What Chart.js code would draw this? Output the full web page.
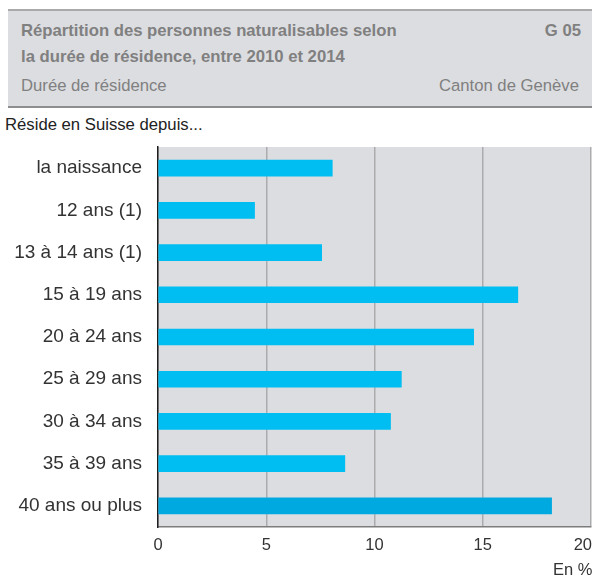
<!DOCTYPE html>
<html>
<head>
<meta charset="utf-8">
<script src="https://cdn.jsdelivr.net/npm/chart.js@4.4.0/dist/chart.umd.min.js"></script>
<style>
  body { margin: 0; background: #fff; font-family: "Liberation Sans", Arial, sans-serif; }
  #wrap { position: relative; width: 592px; height: 576px; overflow: hidden; }
  #head {
    position: absolute; left: 8px; top: 9px; width: 584px; height: 99px;
    background: #dcdde0; box-sizing: border-box;
    border-top: 2px solid #a9a9ab; border-bottom: 2px solid #8e8e90;
  }
  .t { position: absolute; font-size: 16.7px; line-height: 26px; color: #808080; white-space: nowrap; }
  .b { font-weight: bold; }
  #canvasBox { position: absolute; left: 0; top: 0; width: 592px; height: 576px; }
</style>
</head>
<body>
<div id="wrap">
  <div id="head"></div>
  <div class="t b" style="left:21px; top:18px;">Répartition des personnes naturalisables selon</div>
  <div class="t b" style="left:21px; top:44px;">la durée de résidence, entre 2010 et 2014</div>
  <div class="t b" style="right:11px; top:18px;">G 05</div>
  <div class="t" style="left:21px; top:73px;">Durée de résidence</div>
  <div class="t" style="right:13px; top:73px;">Canton de Genève</div>
  <div class="t" style="left:5px; top:112px; color:#222;">Réside en Suisse depuis...</div>
  <div id="canvasBox"><canvas id="chart" width="592" height="576"></canvas></div>
</div>
<script>
  const categories = [
    'la naissance', '12 ans (1)', '13 à 14 ans (1)', '15 à 19 ans', '20 à 24 ans',
    '25 à 29 ans', '30 à 34 ans', '35 à 39 ans', '40 ans ou plus'
  ];
  const shares = [8.05, 4.46, 7.56, 16.62, 14.58, 11.24, 10.74, 8.63, 18.18];
  const xTicks = [0, 5, 10, 15, 20];

  const barColors = categories.map((c, i) => i === categories.length - 1 ? '#00a9e0' : '#00bdf2');

  Chart.defaults.font.family = '"Liberation Sans", Arial, sans-serif';

  // grey plot background, x tick labels (last one kept inside the page) and unit
  const plotBg = {
    id: 'plotBg',
    beforeDraw(chart) {
      const a = chart.chartArea, ctx = chart.ctx;
      ctx.save();
      ctx.fillStyle = '#dcdde0';
      ctx.fillRect(a.left, a.top, a.right - a.left, a.bottom - a.top);
      ctx.restore();
    },
    afterDraw(chart) {
      const ctx = chart.ctx, sx = chart.scales.x;
      ctx.save();
      ctx.font = '16.5px "Liberation Sans", Arial, sans-serif';
      ctx.fillStyle = '#333';
      ctx.textBaseline = 'alphabetic';
      xTicks.forEach((v, i) => {
        const px = sx.getPixelForValue(v);
        const last = i === xTicks.length - 1;
        ctx.textAlign = last ? 'right' : 'center';
        ctx.fillText(String(v), last ? Math.min(px + 1, chart.width) : px, chart.chartArea.bottom + 23);
      });
      ctx.textAlign = 'left';
      ctx.fillText('En %', 553, 575);
      ctx.restore();
    }
  };

  new Chart(document.getElementById('chart'), {
    type: 'bar',
    data: {
      labels: categories,
      datasets: [{
        data: shares,
        backgroundColor: barColors,
        borderWidth: 0,
        barThickness: 16
      }]
    },
    options: {
      indexAxis: 'y',
      responsive: false,
      animation: false,
      layout: { padding: { top: 147, right: 1, bottom: 19, left: 0 } },
      plugins: { legend: { display: false }, tooltip: { enabled: false } },
      scales: {
        x: {
          min: 0, max: 20,
          afterBuildTicks: s => { s.ticks = xTicks.map(v => ({ value: v })); },
          afterFit: s => { s.height = 30; s.paddingLeft = 0; s.paddingRight = 0; },
          grid: { color: '#acacae', lineWidth: 1.5, drawTicks: false },
          border: { display: true, color: '#7c7c7c', width: 1.5 },
          ticks: { display: false }
        },
        y: {
          afterFit: s => { s.width = 158; },
          grid: { display: false, drawTicks: false },
          border: { display: true, color: '#1e1e1e', width: 1.5 },
          ticks: { color: '#333', padding: 16, font: { size: 19 } }
        }
      }
    },
    plugins: [plotBg]
  });
</script>
</body>
</html>
